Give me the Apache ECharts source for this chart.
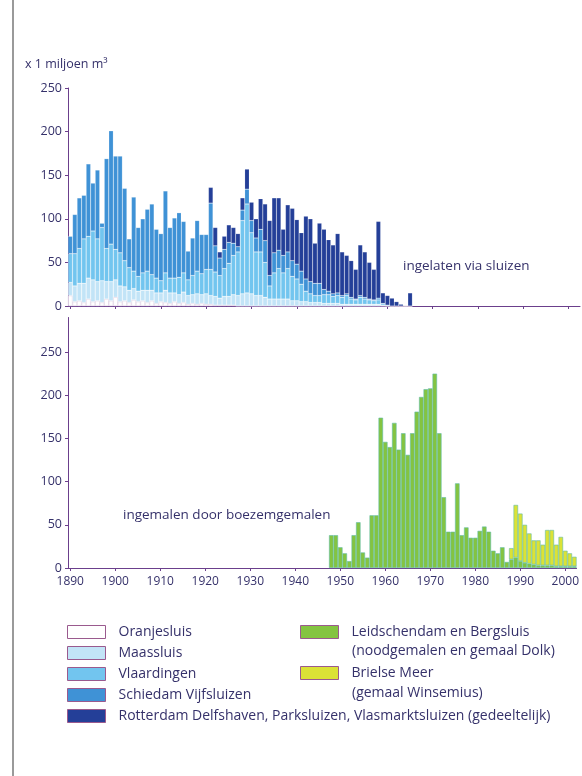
<!DOCTYPE html>
<html>
<head>
<meta charset="utf-8">
<script src="https://cdn.jsdelivr.net/npm/echarts@6/dist/echarts.min.js"></script>
<style>
  html, body { margin: 0; padding: 0; background: #ffffff; }
  #chart { width: 582px; height: 776px; }
</style>
</head>
<body>
<div id="chart"></div>
<script>
// Year categories shared by both panels
const firstYear = 1890;
const lastYear = 2002;
const years = [];
for (let y = firstYear; y <= lastYear; y++) years.push(String(y));

// Upper panel: let in through sluices, 1890–1965 (x 1 million m3)
const sluiceStart = 1890;
const oranjesluis = [
  12, 5, 6, 4, 8, 5, 6, 4, 8, 6,
  10, 5, 6, 4, 7, 5, 6, 4, 6, 3,
  5, 4, 3, 5, 3, 4, 2, 3, 2, 3,
  2, 2, 1, 1, 1, 1, 1, 0, 0, 0,
  0, 0, 0, 0, 0, 0, 0, 0, 0, 0,
  0, 0, 0, 0, 0, 0, 0, 0, 0, 0,
  0, 0, 0, 0, 0, 0, 0, 0, 0, 0,
  0, 0, 0, 0, 0, 0
];
const maassluis = [
  15, 18, 20, 22, 24, 25, 22, 25, 20, 22,
  20, 18, 16, 14, 13, 12, 12, 14, 12, 12,
  10, 14, 12, 10, 10, 12, 10, 10, 12, 10,
  12, 10, 10, 8, 10, 10, 12, 12, 14, 15,
  14, 12, 12, 10, 8, 8, 8, 8, 8, 6,
  6, 5, 5, 4, 4, 4, 3, 3, 3, 3,
  2, 2, 2, 2, 2, 2, 2, 2, 2, 1,
  0, 0, 0, 0, 0, 0
];
const vlaardingen = [
  33, 37, 40, 51, 48, 56, 49, 61, 38, 43,
  35, 38, 30, 26, 20, 17, 20, 22, 18, 17,
  14, 20, 17, 17, 20, 22, 18, 22, 26, 24,
  28, 30, 28, 26, 32, 38, 45, 50, 84, 102,
  70, 50, 50, 40, 15, 30, 35, 30, 35, 28,
  25, 20, 12, 10, 8, 8, 10, 10, 8, 9,
  8, 10, 6, 5, 8, 6, 5, 4, 5, 2,
  1, 0, 0, 0, 0, 0
];
const schiedam = [
  20, 45, 58, 50, 83, 55, 79, 5, 103, 130,
  107, 111, 83, 33, 85, 56, 62, 71, 81, 56,
  54, 94, 58, 69, 74, 59, 33, 43, 58, 45,
  40, 76, 30, 20, 22, 24, 14, 6, 12, 17,
  14, 16, 26, 25, 12, 23, 21, 20, 19, 18,
  17, 15, 14, 14, 14, 14, 6, 4, 3, 3,
  2, 2, 2, 1, 2, 2, 1, 1, 2, 0,
  0, 0, 0, 0, 0, 0
];
const rotterdam = [
  0, 0, 0, 0, 0, 0, 0, 0, 0, 0,
  0, 0, 0, 0, 0, 0, 0, 0, 0, 0,
  0, 0, 0, 0, 0, 0, 0, 0, 0, 0,
  0, 18, 21, 7, 15, 20, 18, 15, 14, 23,
  21, 22, 35, 42, 63, 63, 60, 30, 54, 60,
  51, 44, 72, 72, 46, 69, 69, 59, 56, 68,
  50, 44, 42, 34, 58, 52, 42, 35, 88, 12,
  11, 9, 5, 2, 0, 15
];

// Lower panel: pumped out by the main pumping stations
const leidschendamStart = 1948;
const leidschendam = [
  38, 38, 24, 17, 8, 38, 53, 18, 12, 61,
  61, 174, 146, 140, 168, 137, 156, 131, 156, 181,
  198, 207, 208, 225, 156, 82, 42, 42, 98, 38,
  47, 35, 35, 43, 48, 42, 20, 17, 24, 7,
  10, 12, 8, 6, 5, 4, 3, 3, 3, 3,
  2, 2, 2, 2, 2
];
const brielseStart = 1988;
const brielseMeer = [
  13, 61, 55, 44, 35, 28, 29, 24, 41, 41,
  25, 34, 18, 15, 11
];

// Axis ticks
const valueTicks = [0, 50, 100, 150, 200, 250];

// Spread a run of yearly values over the full category range
function onYears(values, start) {
  const out = years.map(() => null);
  values.forEach((v, i) => {
    const idx = start - firstYear + i;
    if (idx >= 0 && idx < out.length) out[idx] = v;
  });
  return out;
}

const ink = '#35316a';
const axisColor = '#6b3f8c';
const font = '"Open Sans"';
const decade = (idx) => idx % 10 === 0;

const chart = echarts.init(document.getElementById('chart'), null, { renderer: 'canvas' });

const sluiceBar = (name, data, color, border) => ({
  name, type: 'bar', stack: 'sluizen', xAxisIndex: 0, yAxisIndex: 0,
  data: onYears(data, sluiceStart),
  barCategoryGap: '0%',
  itemStyle: { color, borderColor: border, borderWidth: 0.5 },
  emphasis: { disabled: true }, animation: false
});
const pumpBar = (name, data, start, color) => ({
  name, type: 'bar', stack: 'gemalen', xAxisIndex: 1, yAxisIndex: 1,
  data: onYears(data, start),
  barCategoryGap: '0%',
  itemStyle: { color, borderColor: '#5fbca8', borderWidth: 0.6 },
  emphasis: { disabled: true }, animation: false
});

const xAxisBase = (gridIndex, showLabels) => ({
  type: 'category', gridIndex, data: years, boundaryGap: true,
  axisLine: { show: true, lineStyle: { color: axisColor, width: 1 } },
  axisTick: { show: true, alignWithLabel: true, interval: decade, length: 3, lineStyle: { color: axisColor } },
  axisLabel: { show: showLabels, interval: decade, color: ink, fontFamily: font, fontSize: 12, margin: 8 },
  splitLine: { show: false }
});
const yAxisBase = (gridIndex, max) => ({
  type: 'value', gridIndex, min: 0, max,
  axisLine: { show: true, lineStyle: { color: axisColor, width: 1 } },
  axisTick: { show: true, length: 3, customValues: valueTicks, lineStyle: { color: axisColor } },
  axisLabel: { color: ink, fontFamily: font, fontSize: 12.5, margin: 6, customValues: valueTicks },
  splitLine: { show: false }
});

const legendItem = (name) => ({ name, itemStyle: { borderColor: '#9a5a8e', borderWidth: 1 } });
const legendText = { color: ink, fontFamily: font, fontSize: 14, lineHeight: 14, padding: [0, 0, 0, 8] };

chart.setOption({
  backgroundColor: '#ffffff',
  animation: false,
  grid: [
    { left: 68, width: 512, top: 88, height: 218 },
    { left: 68, width: 512, top: 317.5, height: 250.5 }
  ],
  xAxis: [xAxisBase(0, false), xAxisBase(1, true)],
  yAxis: [yAxisBase(0, 250), yAxisBase(1, 290)],
  legend: [
    {
      orient: 'vertical', left: 67, top: 625, padding: 0, icon: 'rect',
      itemWidth: 38, itemHeight: 13, itemGap: 7, selectedMode: false,
      textStyle: legendText,
      data: ['Oranjesluis', 'Maassluis', 'Vlaardingen', 'Schiedam Vijfsluizen',
        'Rotterdam Delfshaven, Parksluizen, Vlasmarktsluizen (gedeeltelijk)'].map(legendItem)
    },
    {
      orient: 'vertical', left: 300, top: 625, padding: 0, icon: 'rect',
      itemWidth: 38, itemHeight: 13, itemGap: 27, selectedMode: false,
      textStyle: legendText,
      data: ['Leidschendam en Bergsluis', 'Brielse Meer'].map(legendItem)
    }
  ],
  graphic: [
    { type: 'line', shape: { x1: 13, y1: 0, x2: 13, y2: 776 }, style: { stroke: '#9a9a9a', lineWidth: 2 } },
    { type: 'text', left: 25, top: 58, style: { text: 'x 1 miljoen m³', fill: ink, font: '12.5px "Open Sans"' } },
    { type: 'text', left: 403, top: 259, style: { text: 'ingelaten via sluizen', fill: ink, font: '13.5px "Open Sans"' } },
    { type: 'text', left: 123, top: 508, style: { text: 'ingemalen door boezemgemalen', fill: ink, font: '13.5px "Open Sans"' } },
    { type: 'text', left: 352, top: 644, style: { text: '(noodgemalen en gemaal Dolk)', fill: ink, font: '14px "Open Sans"' } },
    { type: 'text', left: 352, top: 686, style: { text: '(gemaal Winsemius)', fill: ink, font: '14px "Open Sans"' } }
  ],
  series: [
    sluiceBar('Oranjesluis', oranjesluis, '#ffffff', '#d6c6dc'),
    sluiceBar('Maassluis', maassluis, '#c2e4f7', 'rgba(255,255,255,0.5)'),
    sluiceBar('Vlaardingen', vlaardingen, '#72c5ef', 'rgba(255,255,255,0.4)'),
    sluiceBar('Schiedam Vijfsluizen', schiedam, '#3f92d6', 'rgba(255,255,255,0.3)'),
    sluiceBar('Rotterdam Delfshaven, Parksluizen, Vlasmarktsluizen (gedeeltelijk)', rotterdam, '#243f98', 'rgba(255,255,255,0.25)'),
    pumpBar('Leidschendam en Bergsluis', leidschendam, leidschendamStart, '#84c441'),
    pumpBar('Brielse Meer', brielseMeer, brielseStart, '#dbe236')
  ]
});
</script>
</body>
</html>
